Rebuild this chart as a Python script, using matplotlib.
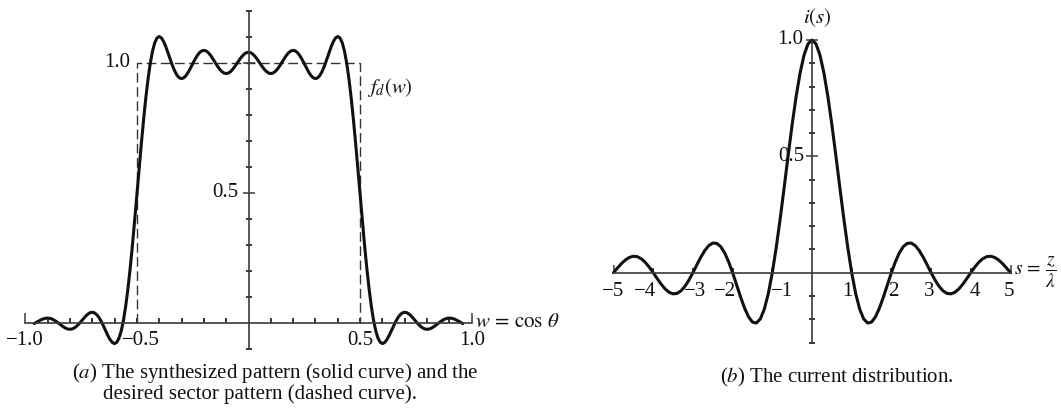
import numpy as np
import matplotlib
matplotlib.use('Agg')
import matplotlib.pyplot as plt

plt.rcParams['font.family'] = ['Liberation Serif', 'DejaVu Serif']
plt.rcParams['mathtext.fontset'] = 'stix'

# ---------------- data ----------------
# (a) synthesized pattern f(w), sampled every 0.01 from w=-0.96 to 0.96
w_samples = np.linspace(-0.96, 0.96, 193)
pattern_f = [
    -0.0033, 0.0014, 0.0063, 0.0108, 0.0145, 0.0169, 0.0178, 0.0169, 0.0142, 0.0098,
    0.0042, -0.0023, -0.0091, -0.0154, -0.0206, -0.0241, -0.0253, -0.0240, -0.0201, -0.0137,
    -0.0053, 0.0045, 0.0148, 0.0245, 0.0327, 0.0382, 0.0402, 0.0380, 0.0314, 0.0205,
    0.0058, -0.0117, -0.0306, -0.0490, -0.0649, -0.0761, -0.0803, -0.0754, -0.0597, -0.0318,
    0.0092, 0.0634, 0.1302, 0.2084, 0.2961, 0.3909, 0.4899, 0.5898, 0.6875, 0.7797,
    0.8636, 0.9367, 0.9971, 1.0438, 1.0762, 1.0949, 1.1007, 1.0955, 1.0814, 1.0610,
    1.0368, 1.0115, 0.9876, 0.9671, 0.9515, 0.9420, 0.9388, 0.9418, 0.9503, 0.9632,
    0.9789, 0.9958, 1.0123, 1.0268, 1.0381, 1.0451, 1.0475, 1.0452, 1.0385, 1.0283,
    1.0156, 1.0018, 0.9881, 0.9759, 0.9663, 0.9603, 0.9582, 0.9602, 0.9662, 0.9753,
    0.9868, 0.9995, 1.0121, 1.0235, 1.0325, 1.0382, 1.0402,
    1.0382, 1.0325, 1.0235, 1.0121, 0.9995, 0.9868,
    0.9753, 0.9662, 0.9602, 0.9582, 0.9603, 0.9663, 0.9759, 0.9881, 1.0018, 1.0156,
    1.0283, 1.0385, 1.0452, 1.0475, 1.0451, 1.0381, 1.0268, 1.0123, 0.9958, 0.9789,
    0.9632, 0.9503, 0.9418, 0.9388, 0.9420, 0.9515, 0.9671, 0.9876, 1.0115, 1.0368,
    1.0610, 1.0814, 1.0955, 1.1007, 1.0949, 1.0762, 1.0438, 0.9971, 0.9367, 0.8636,
    0.7797, 0.6875, 0.5898, 0.4899, 0.3909, 0.2961, 0.2084, 0.1302, 0.0634, 0.0092,
    -0.0318, -0.0597, -0.0754, -0.0803, -0.0761, -0.0649, -0.0490, -0.0306, -0.0117, 0.0058,
    0.0205, 0.0314, 0.0380, 0.0402, 0.0382, 0.0327, 0.0245, 0.0148, 0.0045, -0.0053,
    -0.0137, -0.0201, -0.0240, -0.0253, -0.0241, -0.0206, -0.0154, -0.0091, -0.0023, 0.0042,
    0.0098, 0.0142, 0.0169, 0.0178, 0.0169, 0.0145, 0.0108, 0.0063, 0.0014, -0.0033,
]
# desired sector pattern (dashed)
sector_w = [-0.5, -0.5, 0.5, 0.5]
sector_f = [0.0, 1.0, 1.0, 0.0]

# (b) current distribution i(s), sampled every 0.1 from s=-5 to 5
s_samples = np.linspace(-5.0, 5.0, 101)
current_i = [
    0.0000, 0.0201, 0.0390, 0.0548, 0.0658, 0.0707, 0.0688, 0.0599, 0.0445, 0.0240,
    0.0000, -0.0252, -0.0492, -0.0696, -0.0841, -0.0909, -0.0890, -0.0780, -0.0585, -0.0317,
    0.0000, 0.0339, 0.0668, 0.0954, 0.1164, 0.1273, 0.1261, 0.1120, 0.0850, 0.0468,
    0.0000, -0.0518, -0.1039, -0.1515, -0.1892, -0.2122, -0.2162, -0.1981, -0.1559, -0.0894,
    0.0000, 0.1093, 0.2339, 0.3679, 0.5046, 0.6366, 0.7568, 0.8584, 0.9355, 0.9836,
    1.0000,
    0.9836, 0.9355, 0.8584, 0.7568, 0.6366, 0.5046, 0.3679, 0.2339, 0.1093, 0.0000,
    -0.0894, -0.1559, -0.1981, -0.2162, -0.2122, -0.1892, -0.1515, -0.1039, -0.0518, 0.0000,
    0.0468, 0.0850, 0.1120, 0.1261, 0.1273, 0.1164, 0.0954, 0.0668, 0.0339, 0.0000,
    -0.0317, -0.0585, -0.0780, -0.0890, -0.0909, -0.0841, -0.0696, -0.0492, -0.0252, 0.0000,
    0.0240, 0.0445, 0.0599, 0.0688, 0.0707, 0.0658, 0.0548, 0.0390, 0.0201, 0.0000,
]

a_xlabels = ['\u22121.0', '\u22120.5', '0.5', '1.0']
a_xlabel_pos = [-1.0, -0.48, 0.5, 1.0]
b_xlabels = ['\u22125', '\u22124', '\u22123', '\u22122', '\u22121', '1', '2', '3', '4', '5']
b_xlabel_pos = [-5.0, -4.2, -2.95, -2.2, -0.75, 0.88, 2.05, 2.95, 4.1, 4.95]

# ---------------- layout ----------------
W, H = 1061, 413
fig = plt.figure(figsize=(W / 100, H / 100), dpi=100)
INK = '#111111'
AXC = '#3a3a3a'
FS = 15


def make_axes(px0, px1, x0_px, x_unit_px, y0_px, y_unit_px):
    ax = fig.add_axes([px0 / W, 0, (px1 - px0) / W, 1])
    ax.set_xlim((px0 - x0_px) / x_unit_px, (px1 - x0_px) / x_unit_px)
    ax.set_ylim((y0_px - H) / y_unit_px, y0_px / y_unit_px)
    ax.patch.set_alpha(0)
    for sp in ('top', 'right'):
        ax.spines[sp].set_visible(False)
    for sp in ('bottom', 'left'):
        ax.spines[sp].set_position(('data', 0))
        ax.spines[sp].set_color(AXC)
        ax.spines[sp].set_linewidth(1.2)
    ax.tick_params(colors=AXC, labelbottom=False, labelleft=False)
    return ax


# ---- panel (a)
axa = make_axes(0, 530, 248.5, 223.3, 322.7, 260.0)
axa.spines['bottom'].set_bounds(-1.0, 1.0)
axa.spines['left'].set_bounds(-0.1, 1.2)
axa.set_xticks([-1.0, 1.0])
axa.set_xticks([v / 10 for v in range(-9, 10) if v != 0], minor=True)
axa.set_yticks([0.5, 1.0])
axa.set_yticks([-0.1, 0.1, 0.2, 0.3, 0.4, 0.6, 0.7, 0.8, 0.9, 1.1, 1.2], minor=True)
axa.tick_params(axis='x', which='major', direction='in', length=7, width=1.1)
axa.tick_params(axis='x', which='minor', direction='in', length=3.3, width=1.1)
axa.tick_params(axis='y', which='major', direction='inout', length=8, width=1.1)
axa.tick_params(axis='y', which='minor', direction='inout', length=5, width=1.1)

axa.plot(sector_w, sector_f, color='#333333', lw=1.0, dashes=(7, 3.2))
axa.plot(w_samples, pattern_f, color=INK, lw=2.2, solid_capstyle='round')

for lab, pos in zip(a_xlabels, a_xlabel_pos):
    axa.text(pos, -0.067, lab, ha='center', va='center', fontsize=FS, color=INK)
axa.text(-0.53, 1.0, '1.0', ha='right', va='center', fontsize=FS, color=INK)
axa.text(-0.045, 0.5, '0.5', ha='right', va='center', fontsize=FS, color=INK)
axa.text(0.53, 0.905, r'$f_d(w)$', ha='left', va='center', fontsize=FS, color=INK)
axa.text(1.015, 0.0, r'$w\,=\,\cos\,\theta$', ha='left', va='center', fontsize=FS, color=INK)

# ---- panel (b)
axb = make_axes(530, 1061, 812.0, 39.7, 272.7, 232.7)
axb.spines['bottom'].set_bounds(-5.0, 5.0)
axb.spines['left'].set_bounds(-0.3, 1.0)
axb.set_xticks([-5.0, 5.0])
axb.set_xticks([-4, -3, -2, -1, 1, 2, 3, 4], minor=True)
axb.set_yticks([0.5, 1.0])
axb.set_yticks([-0.3, -0.2, -0.1, 0.1, 0.2, 0.3, 0.4, 0.6, 0.7, 0.8, 0.9], minor=True)
axb.tick_params(axis='x', which='major', direction='in', length=6, width=1.1)
axb.tick_params(axis='x', which='minor', direction='in', length=3.3, width=1.1)
axb.tick_params(axis='y', which='major', direction='inout', length=8, width=1.1)
axb.tick_params(axis='y', which='minor', direction='inout', length=5, width=1.1)

axb.plot(s_samples, current_i, color=INK, lw=2.2, solid_capstyle='round')

for lab, pos in zip(b_xlabels, b_xlabel_pos):
    axb.text(pos, -0.082, lab, ha='center', va='center', fontsize=FS, color=INK)
axb.text(-0.22, 1.0, '1.0', ha='right', va='center', fontsize=FS, color=INK)
axb.text(-0.2, 0.5, '0.5', ha='right', va='center', fontsize=FS, color=INK)
axb.text(0.13, 1.094, r'$i(s)$', ha='center', va='center', fontsize=FS, color=INK)
axb.text(5.08, 0.0, r'$s\,=\,\dfrac{z}{\lambda}$', ha='left', va='center', fontsize=FS - 1,
         color=INK)

# ---- captions
fig.text(72 / W, 1 - 373 / H, r'($\mathit{a}$) The synthesized pattern (solid curve) and the',
         ha='left', va='center', fontsize=FS, color=INK)
fig.text(103 / W, 1 - 394 / H, 'desired sector pattern (dashed curve).',
         ha='left', va='center', fontsize=FS, color=INK)
fig.text(837 / W, 1 - 377 / H, r'($\mathit{b}$) The current distribution.',
         ha='center', va='center', fontsize=FS, color=INK)

fig.savefig('out.png', dpi=100)
